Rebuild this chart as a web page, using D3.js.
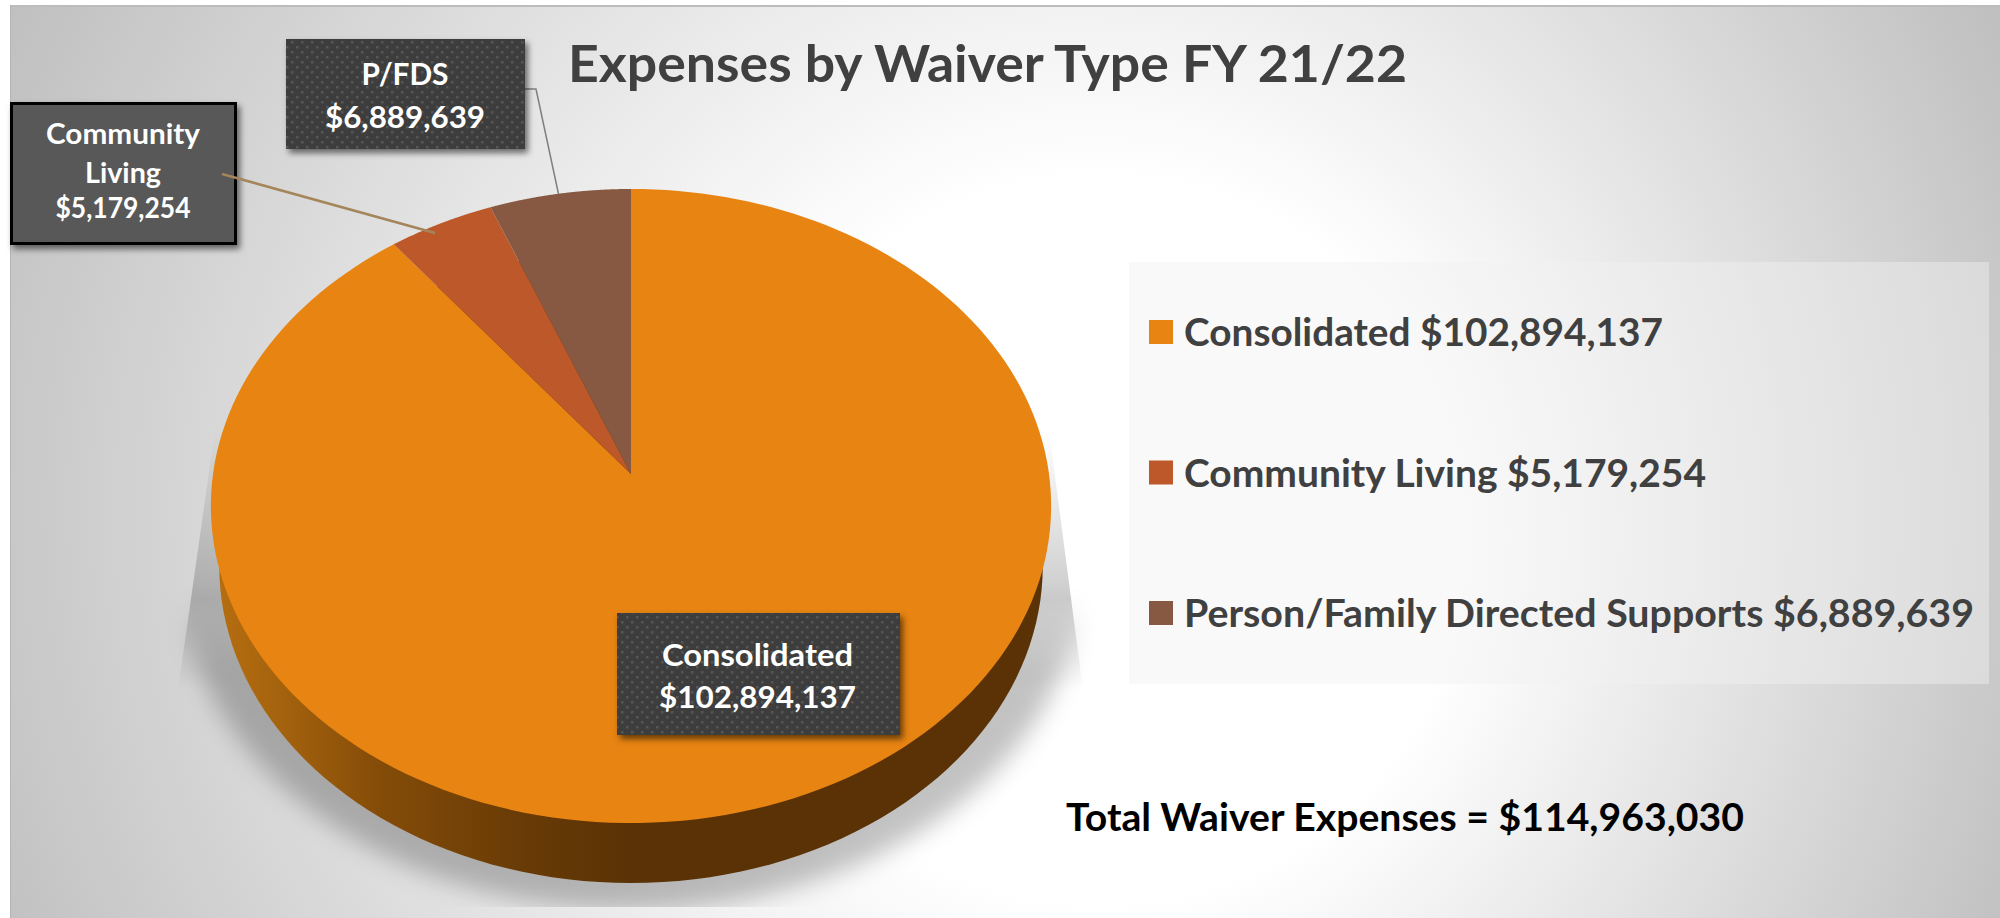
<!DOCTYPE html>
<html>
<head>
	<title>Expenses by Waiver Type FY 21/22</title>
	<script type="text/javascript" src="https://d3js.org/d3.v7.min.js"></script>
	<style>
		html, body { margin: 0; padding: 0; background: #fff; }
		svg { display: block; }
		text { font-family: Lato, "Open Sans", sans-serif; font-weight: 700; }
	</style>
</head>
<body>
<svg id="chart" width="2000" height="918"></svg>

<script type="text/javascript">
// Values
var categories = ["Consolidated", "Community Living", "Person/Family Directed Supports"];
var values = [102894137, 5179254, 6889639];
var colors = ["#e78412", "#bc582a", "#875842"];
var titleText = "Expenses by Waiver Type FY 21/22";
var totalText = "Total Waiver Expenses = $114,963,030";

var money = d3.format("$,");

var svg = d3.select("#chart");
var defs = svg.append("defs");

// Background gradient, off centre so the right side falls off faster
var bg = defs.append("radialGradient").attr("id", "bg")
	.attr("gradientUnits", "userSpaceOnUse")
	.attr("cx", 1000).attr("cy", 500).attr("r", 1100)
	.attr("fx", 1150).attr("fy", 560);
bg.append("stop").attr("offset", 0.33).attr("stop-color", "#ffffff");
bg.append("stop").attr("offset", 1).attr("stop-color", "#c0c0c0");

var wallGrad = defs.append("linearGradient").attr("id", "wall")
	.attr("gradientUnits", "userSpaceOnUse")
	.attr("x1", 210).attr("x2", 1051).attr("y1", 0).attr("y2", 0);
[[0, "#b86e10"], [0.07, "#a8650e"], [0.2, "#854c08"], [0.36, "#6a3c06"], [0.5, "#5a3205"], [1, "#5a3205"]].forEach(function(s){
	wallGrad.append("stop").attr("offset", s[0]).attr("stop-color", s[1]);
});

// The cone part of the floor shadow fades in going down, then hands over to the blurred disc
var coneGrad = defs.append("linearGradient").attr("id", "cone")
	.attr("gradientUnits", "userSpaceOnUse")
	.attr("x1", 0).attr("x2", 0).attr("y1", 430).attr("y2", 690);
[[0, 0], [0.65, 0.2], [0.85, 0.08], [1, 0]].forEach(function(s){
	coneGrad.append("stop").attr("offset", s[0]).attr("stop-color", "#000").attr("stop-opacity", s[1]);
});
var discGrad = defs.append("linearGradient").attr("id", "disc")
	.attr("gradientUnits", "userSpaceOnUse")
	.attr("x1", 0).attr("x2", 0).attr("y1", 600).attr("y2", 680);
[[0, 0], [1, 0.24]].forEach(function(s){
	discGrad.append("stop").attr("offset", s[0]).attr("stop-color", "#000").attr("stop-opacity", s[1]);
});

defs.append("filter").attr("id", "blur")
	.attr("x", "-10%").attr("y", "-10%").attr("width", "120%").attr("height", "120%")
	.append("feGaussianBlur").attr("stdDeviation", 12);

defs.append("clipPath").attr("id", "floor")
	.append("rect").attr("x", 0).attr("y", 0).attr("width", 2000).attr("height", 907);

var boxShadow = defs.append("filter").attr("id", "boxShadow")
	.attr("x", "-10%").attr("y", "-10%").attr("width", "125%").attr("height", "130%");
boxShadow.append("feDropShadow")
	.attr("dx", 3).attr("dy", 4).attr("stdDeviation", 3)
	.attr("flood-color", "#000").attr("flood-opacity", 0.55);

// Dotted fill of the data labels
var dots = defs.append("pattern").attr("id", "dots")
	.attr("patternUnits", "userSpaceOnUse").attr("width", 10).attr("height", 10);
dots.append("rect").attr("width", 10).attr("height", 10).attr("fill", "#3d3d3d");
dots.append("rect").attr("x", 1).attr("y", 1).attr("width", 2.5).attr("height", 2.5).attr("fill", "#575757");
dots.append("rect").attr("x", 6).attr("y", 6).attr("width", 2.5).attr("height", 2.5).attr("fill", "#575757");

// Page panel
svg.append("rect").attr("x", 10).attr("y", 5).attr("width", 1990).attr("height", 913).attr("fill", "url(#bg)");
svg.append("rect").attr("x", 10).attr("y", 5).attr("width", 1990).attr("height", 2).attr("fill", "#bcbcbc");
svg.append("rect").attr("x", 10).attr("y", 5).attr("width", 1).attr("height", 913).attr("fill", "#b4b4b4");

// Pie in perspective: unit circle on a tilted plane, projected to the page
var cx = 631, cy = 474, rx = 418, ry = 313.8, tilt = 0.101;

function project(a, scale, drop) {
	var X = Math.sin(a), Y = -Math.cos(a);
	var w = 1 - tilt * Y;
	return [cx + scale * rx * X / w, cy + drop + ry * Y / w];
}

var pie = d3.pie().sort(null)(values);
var color = d3.scaleOrdinal().domain(categories).range(colors);
var line = d3.line();

function ringPoints(a0, a1, scale, drop) {
	return d3.range(0, 181).map(function(i){
		return project(a0 + (a1 - a0) * i / 180, scale, drop);
	});
}

// Floor shadow
var shadow = svg.append("g").attr("clip-path", "url(#floor)");
shadow.append("path")
	.attr("d", line([[215, 430], [1049, 430], [1083, 690], [178, 690]]) + "Z")
	.attr("fill", "url(#cone)");
shadow.append("ellipse")
	.attr("cx", cx).attr("cy", 573).attr("rx", 450).attr("ry", 337)
	.attr("fill", "url(#disc)")
	.attr("filter", "url(#blur)");

// Wall of the pie: the same ring pushed down, a bit narrower
svg.append("path")
	.attr("d", line(ringPoints(0, 2 * Math.PI, 0.98, 60)) + "Z")
	.attr("fill", "url(#wall)");

// Top face
svg.selectAll("path.slice")
	.data(pie)
  .enter().append("path")
	.attr("class", "slice")
	.attr("d", function(d){
		return line([[cx, cy]].concat(ringPoints(d.startAngle, d.endAngle, 1, 0))) + "Z";
	})
	.attr("fill", function(d, i){ return color(categories[i]); });

// Leader lines
svg.append("path")
	.attr("d", line([[525, 89], [536, 89], [558.5, 194]]))
	.attr("fill", "none").attr("stroke", "#7f7f7f").attr("stroke-width", 1.5);

// Data labels
function addText(g, str, x, y, size, width, fill, anchor) {
	g.append("text")
		.attr("x", x).attr("y", y)
		.attr("font-size", size)
		.attr("fill", fill)
		.attr("text-anchor", anchor || "middle")
		.attr("textLength", width)
		.attr("lengthAdjust", "spacingAndGlyphs")
		.text(str);
}

var labelBoxes = svg.append("g");

labelBoxes.append("rect")
	.attr("x", 286).attr("y", 39).attr("width", 239).attr("height", 110)
	.attr("fill", "url(#dots)").attr("filter", "url(#boxShadow)");
addText(labelBoxes, "P/FDS", 405, 85, 31, 87, "#fff");
addText(labelBoxes, money(values[2]), 405, 128, 31, 160, "#fff");

labelBoxes.append("rect")
	.attr("x", 11.5).attr("y", 103.5).attr("width", 224).attr("height", 140)
	.attr("fill", "#595959").attr("stroke", "#000").attr("stroke-width", 3)
	.attr("filter", "url(#boxShadow)");
addText(labelBoxes, "Community", 123, 144, 28, 154, "#fff");
addText(labelBoxes, "Living", 123, 183, 28, 76, "#fff");
addText(labelBoxes, money(values[1]), 123, 218, 28, 135, "#fff");

svg.append("path")
	.attr("d", line([[222, 174], [435, 233]]))
	.attr("fill", "none").attr("stroke", "#a5855a").attr("stroke-width", 2.5);

labelBoxes.append("rect")
	.attr("x", 617).attr("y", 613).attr("width", 283).attr("height", 122)
	.attr("fill", "url(#dots)").attr("filter", "url(#boxShadow)");
addText(labelBoxes, categories[0], 757.5, 666, 31, 191, "#fff");
addText(labelBoxes, money(values[0]), 757.5, 708, 31, 197, "#fff");

// Title
addText(svg, titleText, 568, 82, 52, 839, "#404040", "start");

// Legend
svg.append("rect")
	.attr("x", 1129).attr("y", 262).attr("width", 860).attr("height", 422)
	.attr("fill", "#f1f1f1").attr("fill-opacity", 0.44);

var legendY = d3.scalePoint().domain(categories).range([344, 625]);
var legendWidths = [479, 522, 790];

var legend = svg.selectAll("g.legend")
	.data(categories)
  .enter().append("g")
	.attr("class", "legend")
	.attr("transform", function(d){ return "translate(0," + legendY(d) + ")"; });

legend.append("rect")
	.attr("x", 1149).attr("y", -24).attr("width", 24).attr("height", 24)
	.attr("fill", function(d){ return color(d); });

legend.each(function(d, i){
	addText(d3.select(this), d + " " + money(values[i]), 1184, 2, 39, legendWidths[i], "#404040", "start");
});

// Total
addText(svg, totalText, 1066, 831, 39, 678, "#000", "start");

</script>
</body>
</html>
